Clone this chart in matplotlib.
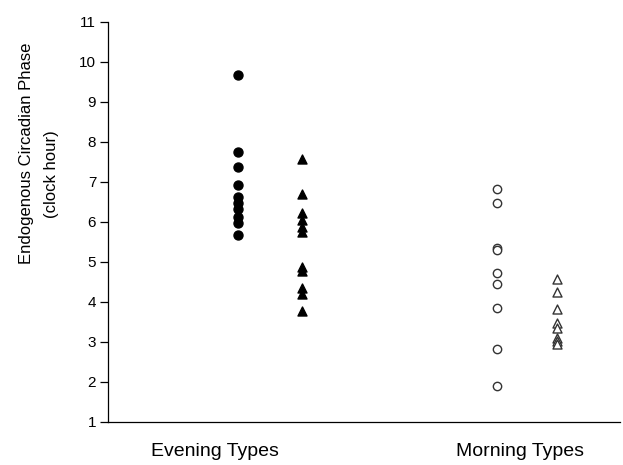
import matplotlib
matplotlib.use("Agg")
import matplotlib.pyplot as plt

plt.rcParams['font.family'] = ['Liberation Sans', 'DejaVu Sans']

# endogenous circadian phase (clock hour)
evening_circles = [9.67, 7.75, 7.38, 6.93, 6.62, 6.46, 6.31, 6.13, 5.97, 5.67]
evening_triangles = [7.58, 6.69, 6.23, 6.04, 5.88, 5.75, 4.88, 4.78, 4.35, 4.2, 3.77]
morning_circles = [6.81, 6.46, 5.35, 5.3, 4.72, 4.45, 3.85, 2.83, 1.9]
morning_triangles = [4.58, 4.25, 3.82, 3.48, 3.35, 3.1, 3.02, 2.95]

group_labels = ["Evening Types", "Morning Types"]
yticks = list(range(1, 12))

fig = plt.figure(figsize=(6.23, 4.65), dpi=100)
ax = fig.add_axes([0.1734, 0.0931, 0.8216, 0.8602])

ax.scatter([1.0] * len(evening_circles), evening_circles, s=42, c="black", marker="o", zorder=3)
ax.scatter([1.5] * len(evening_triangles), evening_triangles, s=42, c="black", marker="^", zorder=3)
ax.scatter([3.02] * len(morning_circles), morning_circles, s=36, facecolors="white",
           edgecolors="#333333", linewidths=1.0, marker="o", zorder=3)
ax.scatter([3.49] * len(morning_triangles), morning_triangles, s=42, facecolors="white",
           edgecolors="#333333", linewidths=1.0, marker="^", zorder=3)

ax.set_xlim(-0.016, 3.98)
ax.set_ylim(1, 11)
ax.set_yticks(yticks)
ax.set_xticks([0.82, 3.2])
ax.set_xticklabels(group_labels, fontsize=14)
ax.tick_params(axis="x", length=0, pad=15)
ax.tick_params(axis="y", length=6, width=0.9, labelsize=11, pad=2.5)

for side in ["top", "right"]:
    ax.spines[side].set_visible(False)
for side in ["left", "bottom"]:
    ax.spines[side].set_linewidth(0.9)

fig.text(0.042, 0.67, "Endogenous Circadian Phase", rotation=90, fontsize=12,
         ha="center", va="center")
fig.text(0.082, 0.625, "(clock hour)", rotation=90, fontsize=12,
         ha="center", va="center")

fig.savefig("out.png", dpi=100)
